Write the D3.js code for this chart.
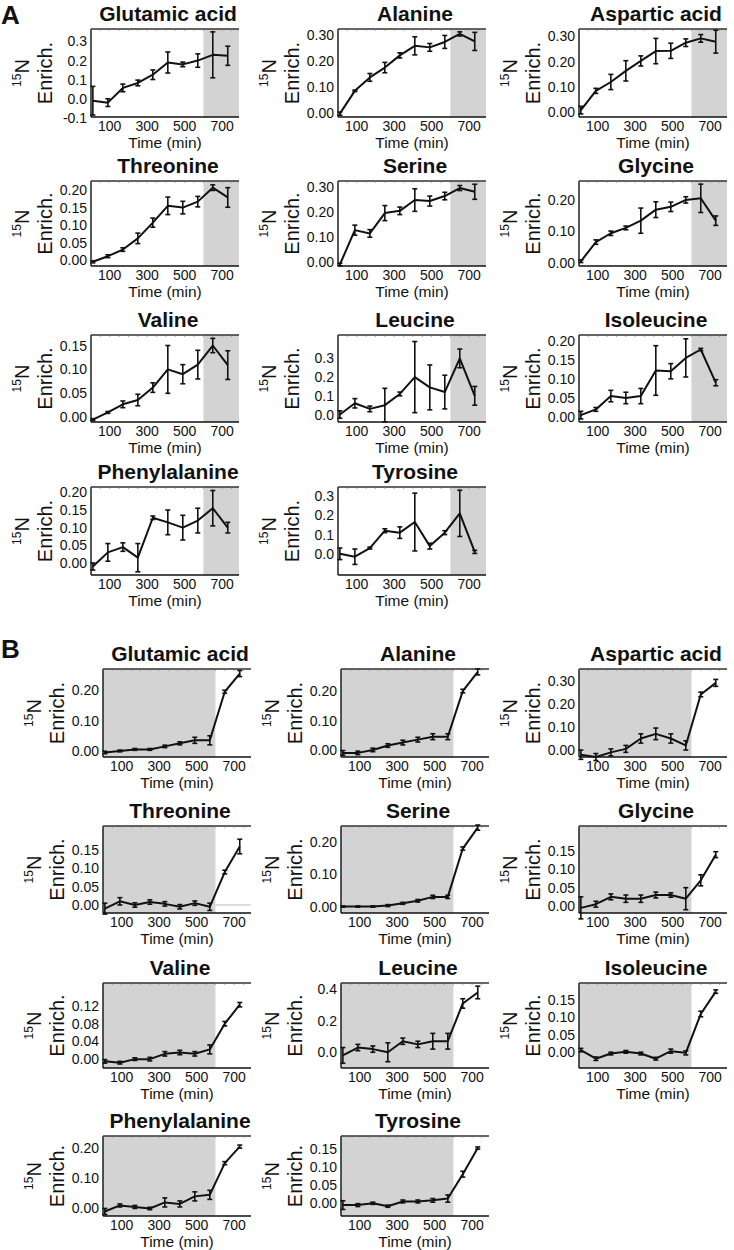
<!DOCTYPE html>
<html><head><meta charset="utf-8">
<script src="https://cdn.jsdelivr.net/npm/d3@7"></script>
<style>body{margin:0;background:#fff;} svg{display:block;font-family:"Liberation Sans",Arial,sans-serif;}</style>
</head><body><svg id="c" width="734" height="1250"></svg>
<script>
// ---------------- data ----------------
const aminoAcids = ["Glutamic acid","Alanine","Aspartic acid","Threonine","Serine","Glycine",
  "Valine","Leucine","Isoleucine","Phenylalanine","Tyrosine"];
const timesMin = [10, 90, 170, 250, 330, 410, 490, 570, 650, 730];
const xTickValues = [100, 300, 500, 700];
const xAxisTitle = "Time (min)";
const shiftTime = 600; // medium switch

// Panel A: 15N enrichment, mean and error
const meansA = [
  [-0.01, -0.02, 0.057, 0.083, 0.126, 0.19, 0.18, 0.2, 0.23, 0.225],
  [-0.004, 0.084, 0.136, 0.174, 0.221, 0.258, 0.252, 0.273, 0.304, 0.275],
  [0.009, 0.085, 0.12, 0.164, 0.203, 0.242, 0.243, 0.275, 0.292, 0.279],
  [-0.005, 0.011, 0.03, 0.062, 0.107, 0.155, 0.15, 0.167, 0.207, 0.179],
  [-0.01, 0.127, 0.114, 0.195, 0.204, 0.247, 0.243, 0.263, 0.295, 0.28],
  [0.005, 0.066, 0.094, 0.111, 0.134, 0.169, 0.178, 0.2, 0.205, 0.134],
  [-0.005, 0.01, 0.027, 0.036, 0.062, 0.1, 0.09, 0.11, 0.15, 0.109],
  [0.0, 0.06, 0.03, 0.05, 0.11, 0.2, 0.145, 0.12, 0.3, 0.1],
  [0.005, 0.02, 0.055, 0.05, 0.055, 0.122, 0.12, 0.155, 0.177, 0.09],
  [-0.01, 0.03, 0.045, 0.015, 0.128, 0.115, 0.1, 0.12, 0.155, 0.1],
  [0.0, -0.015, 0.03, 0.12, 0.11, 0.165, 0.04, 0.11, 0.21, 0.01]
];
const errorsA = [
  [0.075, 0.02, 0.02, 0.015, 0.025, 0.055, 0.012, 0.035, 0.12, 0.05],
  [0.006, 0.003, 0.015, 0.02, 0.01, 0.035, 0.015, 0.025, 0.008, 0.035],
  [0.015, 0.01, 0.03, 0.04, 0.02, 0.05, 0.03, 0.015, 0.015, 0.045],
  [0.003, 0.004, 0.005, 0.015, 0.013, 0.025, 0.018, 0.015, 0.008, 0.028],
  [0.005, 0.02, 0.015, 0.03, 0.015, 0.045, 0.02, 0.015, 0.01, 0.03],
  [0.004, 0.007, 0.007, 0.006, 0.04, 0.025, 0.015, 0.01, 0.045, 0.015],
  [0.002, 0.002, 0.007, 0.012, 0.01, 0.05, 0.02, 0.03, 0.015, 0.03],
  [0.02, 0.025, 0.015, 0.09, 0.01, 0.19, 0.12, 0.09, 0.05, 0.05],
  [0.01, 0.005, 0.015, 0.015, 0.02, 0.065, 0.02, 0.05, 0.003, 0.008],
  [0.01, 0.025, 0.012, 0.04, 0.005, 0.035, 0.035, 0.035, 0.05, 0.015],
  [0.03, 0.04, 0.005, 0.01, 0.03, 0.15, 0.015, 0.01, 0.12, 0.008]
];
const yTicksA = [
  ["-0.1","0.0","0.1","0.2","0.3"],
  ["0.00","0.10","0.20","0.30"],
  ["0.00","0.10","0.20","0.30"],
  ["0.00","0.05","0.10","0.15","0.20"],
  ["0.00","0.10","0.20","0.30"],
  ["0.00","0.10","0.20"],
  ["0.00","0.05","0.10","0.15"],
  ["0.0","0.1","0.2","0.3"],
  ["0.00","0.05","0.10","0.15","0.20"],
  ["0.00","0.05","0.10","0.15","0.20"],
  ["0.0","0.1","0.2","0.3"]
];
const yRangeA = [
  [-0.095, 0.365], [-0.017, 0.323], [-0.018, 0.329], [-0.017, 0.226],
  [-0.016, 0.323], [-0.01, 0.26], [-0.01, 0.172], [-0.04, 0.425],
  [-0.013, 0.215], [-0.034, 0.215], [-0.11, 0.347]
];

// Panel B
const meansB = [
  [-0.005, 0.0, 0.005, 0.005, 0.015, 0.025, 0.035, 0.035, 0.195, 0.255],
  [-0.01, -0.01, 0.0, 0.015, 0.025, 0.035, 0.045, 0.045, 0.2, 0.265],
  [-0.02, -0.03, -0.01, 0.005, 0.05, 0.07, 0.05, 0.02, 0.24, 0.29],
  [-0.01, 0.01, 0.0, 0.008, 0.003, -0.005, 0.005, -0.005, 0.09, 0.16],
  [0.0, 0.0, 0.0, 0.003, 0.01, 0.018, 0.03, 0.03, 0.18, 0.245],
  [-0.005, 0.005, 0.025, 0.02, 0.02, 0.03, 0.03, 0.02, 0.07, 0.14],
  [-0.005, -0.008, 0.0, 0.0, 0.012, 0.015, 0.012, 0.022, 0.08, 0.123],
  [-0.02, 0.03, 0.02, 0.0, 0.07, 0.05, 0.07, 0.07, 0.31, 0.38],
  [0.005, -0.02, -0.005, 0.0, -0.005, -0.02, 0.002, -0.003, 0.11, 0.175],
  [-0.01, 0.01, 0.005, 0.0, 0.02, 0.015, 0.04, 0.045, 0.15, 0.205],
  [-0.005, -0.005, 0.0, -0.008, 0.005, 0.005, 0.008, 0.013, 0.08, 0.152]
];
const errorsB = [
  [0.004, 0.003, 0.003, 0.003, 0.004, 0.005, 0.01, 0.015, 0.005, 0.01],
  [0.008, 0.006, 0.006, 0.006, 0.008, 0.008, 0.01, 0.01, 0.006, 0.01],
  [0.02, 0.015, 0.015, 0.015, 0.02, 0.025, 0.02, 0.02, 0.01, 0.015],
  [0.015, 0.01, 0.006, 0.006, 0.006, 0.006, 0.006, 0.01, 0.005, 0.02],
  [0.002, 0.002, 0.002, 0.003, 0.003, 0.004, 0.005, 0.005, 0.005, 0.008],
  [0.03, 0.008, 0.008, 0.01, 0.01, 0.008, 0.006, 0.03, 0.015, 0.008],
  [0.004, 0.003, 0.003, 0.004, 0.005, 0.005, 0.005, 0.01, 0.005, 0.005],
  [0.05, 0.02, 0.02, 0.06, 0.02, 0.02, 0.05, 0.05, 0.03, 0.04],
  [0.005, 0.005, 0.004, 0.004, 0.004, 0.004, 0.006, 0.006, 0.008, 0.005],
  [0.01, 0.005, 0.005, 0.004, 0.015, 0.01, 0.015, 0.015, 0.005, 0.005],
  [0.012, 0.004, 0.003, 0.003, 0.004, 0.004, 0.005, 0.01, 0.008, 0.003]
];
const yTicksB = [
  ["0.00","0.10","0.20"],
  ["0.00","0.10","0.20"],
  ["0.00","0.10","0.20","0.30"],
  ["0.00","0.05","0.10","0.15"],
  ["0.00","0.10","0.20"],
  ["0.00","0.05","0.10","0.15"],
  ["0.00","0.04","0.08","0.12"],
  ["0.0","0.2","0.4"],
  ["0.00","0.05","0.10","0.15"],
  ["0.00","0.10","0.20"],
  ["0.00","0.05","0.10","0.15"]
];
const yRangeB = [
  [-0.02, 0.27], [-0.024, 0.275], [-0.03, 0.35], [-0.022, 0.216],
  [-0.02, 0.25], [-0.019, 0.218], [-0.02, 0.172], [-0.1, 0.44],
  [-0.047, 0.2], [-0.025, 0.24], [-0.035, 0.185]
];

// ---------------- layout ----------------
const svg = d3.select("#c");
const plotW = 148;
const xDomain = [0, 790];
const layoutA = { cols: [91, 338, 579], tops: [29, 181, 335, 487], bottoms: [117, 266, 422, 575] };
const layoutB = { cols: [103, 341, 579], tops: [669, 826, 983, 1136], bottoms: [757, 913, 1068, 1216] };

function drawPanel(i, means, errs, ticks, yDom, lay, part) {
  const col = i % 3, row = Math.floor(i / 3);
  const left = lay.cols[col], top = lay.tops[row], bottom = lay.bottoms[row];
  const right = left + plotW;
  const x = d3.scaleLinear().domain(xDomain).range([left, right]);
  const y = d3.scaleLinear().domain(yDom).range([bottom, top]);
  const g = svg.append("g");

  // shading
  if (part === "A") {
    g.append("rect").attr("x", x(shiftTime)).attr("y", top).attr("width", right - x(shiftTime)).attr("height", bottom - top).attr("fill", "#d3d3d3");
  } else {
    g.append("rect").attr("x", left).attr("y", top).attr("width", x(shiftTime) - left).attr("height", bottom - top).attr("fill", "#d3d3d3");
  }
  // zero reference line (visible in Threonine B)
  if (part === "B" && i === 3) {
    g.append("line").attr("x1", x(shiftTime)).attr("x2", right).attr("y1", y(0)).attr("y2", y(0)).attr("stroke", "#bbb").attr("stroke-width", 1);
  }
  // frame
  g.append("line").attr("x1", left).attr("x2", right).attr("y1", top).attr("y2", top).attr("stroke", "#333").attr("stroke-width", 1.6);
  g.append("line").attr("x1", left).attr("x2", left).attr("y1", top).attr("y2", bottom).attr("stroke", "#111").attr("stroke-width", 1.4);
  g.append("line").attr("x1", left).attr("x2", right).attr("y1", bottom).attr("y2", bottom).attr("stroke", "#111").attr("stroke-width", 1.4);
  // top minor ticks
  g.selectAll(".mt").data(d3.range(0, 790, 50)).join("line")
    .attr("x1", d => x(d)).attr("x2", d => x(d)).attr("y1", top).attr("y2", top + 2)
    .attr("stroke", "#777").attr("stroke-width", 0.6);

  // y ticks
  g.selectAll(".yt").data(ticks).join("text")
    .attr("x", left - 4).attr("y", d => y(+d)).attr("dy", "0.36em")
    .attr("text-anchor", "end").attr("font-size", 14).attr("fill", "#111").text(d => d);
  // x ticks
  g.selectAll(".xt").data(xTickValues).join("text")
    .attr("x", d => x(d)).attr("y", bottom + 14).attr("text-anchor", "middle")
    .attr("font-size", 14).attr("fill", "#111").text(d => d);
  g.append("text").attr("x", (left + right) / 2).attr("y", bottom + 31)
    .attr("text-anchor", "middle").attr("font-size", 15.5).attr("fill", "#111").text(xAxisTitle);

  // title
  g.append("text").attr("x", (left + right) / 2 + 3).attr("y", top - 8)
    .attr("text-anchor", "middle").attr("font-size", 21).attr("font-weight", "bold").attr("fill", "#111")
    .text(aminoAcids[i]);

  // y label
  const cy = (top + bottom) / 2;
  const t1 = g.append("text").attr("transform", `translate(${left - 62},${cy}) rotate(-90)`)
    .attr("text-anchor", "middle").attr("fill", "#111");
  t1.append("tspan").attr("font-size", 12).attr("dy", -8).text("15");
  t1.append("tspan").attr("font-size", 20).attr("dy", 8).text("N");
  g.append("text").attr("transform", `translate(${left - 39},${cy}) rotate(-90)`)
    .attr("text-anchor", "middle").attr("font-size", 20).attr("fill", "#111").text("Enrich.");

  // data
  const pts = timesMin.map((t, k) => ({ t, m: means[k], e: errs[k] }));
  g.append("path").datum(pts).attr("fill", "none").attr("stroke", "#111").attr("stroke-width", 2)
    .attr("stroke-linejoin", "round")
    .attr("d", d3.line().x(d => x(d.t)).y(d => y(d.m)));
  const eb = g.selectAll(".eb").data(pts).join("g");
  eb.append("line").attr("x1", d => x(d.t)).attr("x2", d => x(d.t))
    .attr("y1", d => y(d.m - d.e)).attr("y2", d => y(d.m + d.e)).attr("stroke", "#111").attr("stroke-width", 1.6);
  eb.append("line").attr("x1", d => x(d.t) - 2.5).attr("x2", d => x(d.t) + 2.5)
    .attr("y1", d => y(d.m - d.e)).attr("y2", d => y(d.m - d.e)).attr("stroke", "#111").attr("stroke-width", 1.6);
  eb.append("line").attr("x1", d => x(d.t) - 2.5).attr("x2", d => x(d.t) + 2.5)
    .attr("y1", d => y(d.m + d.e)).attr("y2", d => y(d.m + d.e)).attr("stroke", "#111").attr("stroke-width", 1.6);
}

aminoAcids.forEach((_, i) => drawPanel(i, meansA[i], errorsA[i], yTicksA[i], yRangeA[i], layoutA, "A"));
aminoAcids.forEach((_, i) => drawPanel(i, meansB[i], errorsB[i], yTicksB[i], yRangeB[i], layoutB, "B"));

svg.append("text").attr("x", 1).attr("y", 24).attr("font-size", 26).attr("font-weight", "bold").attr("fill", "#111").text("A");
svg.append("text").attr("x", 1).attr("y", 658).attr("font-size", 26).attr("font-weight", "bold").attr("fill", "#111").text("B");
</script></body></html>
